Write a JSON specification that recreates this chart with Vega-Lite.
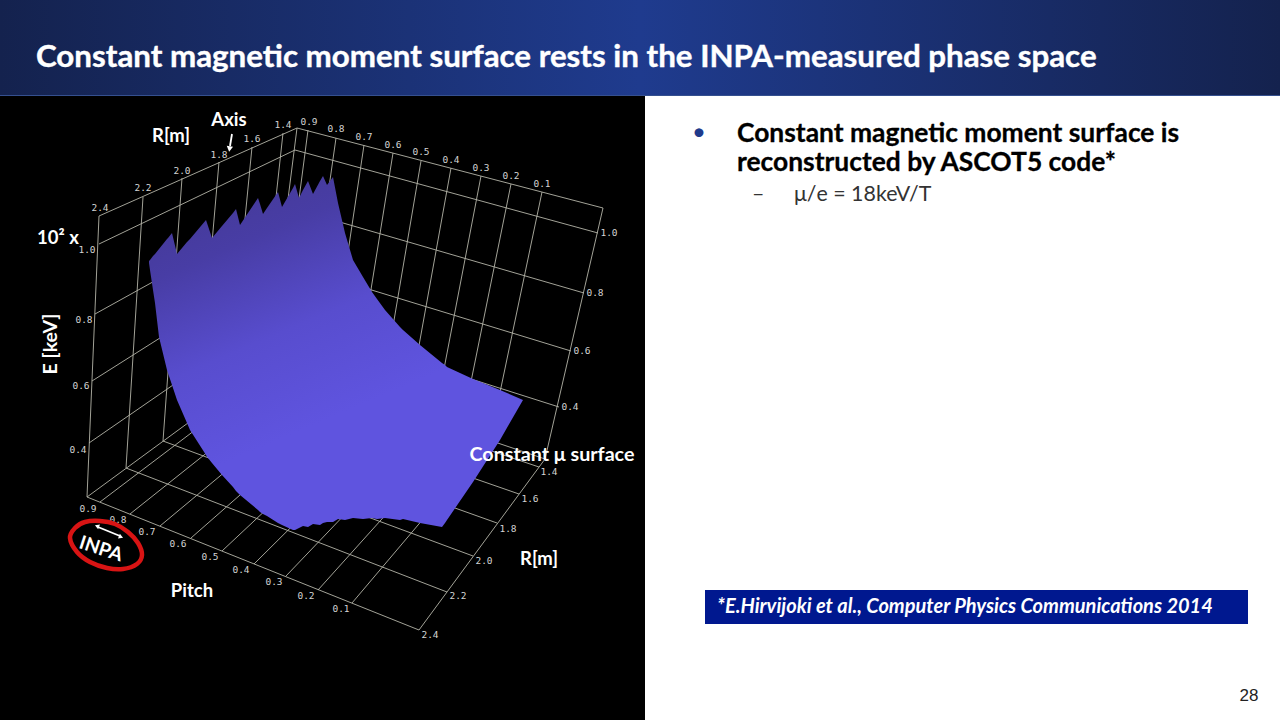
{"$schema":"https://vega.github.io/schema/vega-lite/v6.json","width":1280,"height":720,"autosize":{"type":"fit","contains":"padding"},"padding":0,"background":"#ffffff","view":{"stroke":null},
"datasets":{
"grid":[
{"x":99,"y":216,"x2":297,"y2":128},{"x":297,"y":128,"x2":603,"y2":208},{"x":99,"y":216,"x2":87,"y2":497},{"x":603,"y":208,"x2":545,"y2":459},{"x":297,"y":128,"x2":267,"y2":365},{"x":87,"y":497,"x2":419,"y2":630},{"x":419,"y":630,"x2":545,"y2":459},{"x":87,"y":497,"x2":267,"y2":365},{"x":267,"y":365,"x2":545,"y2":459},
{"x":99,"y":244,"x2":295,"y2":150},{"x":95,"y":314,"x2":288,"y2":207},{"x":92,"y":381,"x2":280,"y2":262},{"x":89,"y":443,"x2":273,"y2":316},
{"x":295,"y":150,"x2":598,"y2":233},{"x":288,"y":207,"x2":584,"y2":293},{"x":280,"y":262,"x2":571,"y2":351},{"x":273,"y":316,"x2":559,"y2":407},
{"x":143,"y":197,"x2":126,"y2":468},{"x":182,"y":178,"x2":163,"y2":441},{"x":219,"y":162,"x2":197,"y2":416},{"x":252,"y":147,"x2":228,"y2":393},{"x":283,"y":133,"x2":257,"y2":372},
{"x":308,"y":130,"x2":277,"y2":368},{"x":336,"y":138,"x2":302,"y2":377},{"x":364,"y":145,"x2":328,"y2":386},{"x":393,"y":153,"x2":354,"y2":395},{"x":421,"y":161,"x2":380,"y2":403},{"x":451,"y":168,"x2":407,"y2":412},{"x":481,"y":176,"x2":434,"y2":421},{"x":511,"y":184,"x2":461,"y2":431},{"x":542,"y":192,"x2":490,"y2":440},
{"x":100,"y":502,"x2":277,"y2":368},{"x":130,"y":514,"x2":302,"y2":377},{"x":160,"y":526,"x2":328,"y2":386},{"x":191,"y":538,"x2":354,"y2":395},{"x":222,"y":551,"x2":380,"y2":403},{"x":254,"y":564,"x2":407,"y2":412},{"x":286,"y":576,"x2":434,"y2":421},{"x":318,"y":590,"x2":461,"y2":431},{"x":352,"y":603,"x2":490,"y2":440},
{"x":126,"y":468,"x2":447,"y2":592},{"x":163,"y":441,"x2":473,"y2":556},{"x":197,"y":416,"x2":497,"y2":523},{"x":228,"y":393,"x2":519,"y2":494},{"x":257,"y":372,"x2":539,"y2":467}
],
"surface":[
{"x":149,"y":261,"y2":263},{"x":150,"y":260,"y2":270},{"x":153,"y":256,"y2":290},{"x":155,"y":254,"y2":303},{"x":159,"y":249,"y2":337},{"x":167,"y":239,"y2":370},{"x":168,"y":238,"y2":373},{"x":172,"y":233,"y2":385},{"x":177,"y":254,"y2":400},{"x":187,"y":242,"y2":423},{"x":190,"y":239,"y2":430},{"x":206,"y":220,"y2":455},{"x":207,"y":223,"y2":457},{"x":208,"y":226,"y2":458},{"x":212,"y":238,"y2":463},{"x":222,"y":226,"y2":475},{"x":233,"y":213,"y2":487},{"x":236,"y":209,"y2":491},{"x":240,"y":225,"y2":495},{"x":258,"y":198,"y2":510},{"x":260,"y":204,"y2":512},{"x":263,"y":214,"y2":514},{"x":267,"y":208,"y2":516},{"x":278,"y":192,"y2":523},{"x":282,"y":207,"y2":525},{"x":293,"y":188,"y2":530},{"x":295,"y":184,"y2":530},{"x":297,"y":191,"y2":529},{"x":299,"y":198,"y2":528},{"x":303,"y":190,"y2":526},{"x":308,"y":181,"y2":527},{"x":313,"y":194,"y2":524},{"x":320,"y":181,"y2":525},{"x":323,"y":176,"y2":523},{"x":327,"y":185,"y2":522},{"x":333,"y":177,"y2":522},{"x":338,"y":203,"y2":519},{"x":345,"y":233,"y2":520},{"x":353,"y":260,"y2":518},{"x":363,"y":277,"y2":519},{"x":372,"y":292,"y2":518},{"x":377,"y":299,"y2":519},{"x":385,"y":310,"y2":518},{"x":400,"y":327,"y2":520},{"x":403,"y":330,"y2":519},{"x":420,"y":345,"y2":523},{"x":442,"y":363,"y2":527},{"x":445,"y":365,"y2":523},{"x":447,"y":367,"y2":520},{"x":473,"y":379,"y2":482},{"x":500,"y":390,"y2":440},{"x":523,"y":400,"y2":400}
],
"ticks":[
{"x":100,"y":208,"t":"2.4"},{"x":143,"y":188,"t":"2.2"},{"x":182,"y":171,"t":"2.0"},{"x":219,"y":155,"t":"1.8"},{"x":252,"y":139,"t":"1.6"},{"x":283,"y":125,"t":"1.4"},
{"x":309,"y":122,"t":"0.9"},{"x":336,"y":129,"t":"0.8"},{"x":364,"y":137,"t":"0.7"},{"x":393,"y":145,"t":"0.6"},{"x":421,"y":152,"t":"0.5"},{"x":451,"y":160,"t":"0.4"},{"x":481,"y":168,"t":"0.3"},{"x":511,"y":176,"t":"0.2"},{"x":542,"y":184,"t":"0.1"},
{"x":87,"y":250,"t":"1.0"},{"x":84,"y":320,"t":"0.8"},{"x":81,"y":386,"t":"0.6"},{"x":78,"y":450,"t":"0.4"},
{"x":609,"y":233,"t":"1.0"},{"x":595,"y":293,"t":"0.8"},{"x":582,"y":351,"t":"0.6"},{"x":570,"y":407,"t":"0.4"},
{"x":88,"y":509,"t":"0.9"},{"x":118,"y":520,"t":"0.8"},{"x":147,"y":532,"t":"0.7"},{"x":178,"y":544,"t":"0.6"},{"x":210,"y":557,"t":"0.5"},{"x":241,"y":570,"t":"0.4"},{"x":274,"y":582,"t":"0.3"},{"x":306,"y":596,"t":"0.2"},{"x":341,"y":609,"t":"0.1"},
{"x":549,"y":472,"t":"1.4"},{"x":530,"y":499,"t":"1.6"},{"x":508,"y":529,"t":"1.8"},{"x":484,"y":561,"t":"2.0"},{"x":458,"y":596,"t":"2.2"},{"x":430,"y":635,"t":"2.4"}
],
"ellipse":[{"x":70,"y":538,"o":0},{"x":75,"y":528,"o":1},{"x":85,"y":522,"o":2},{"x":100,"y":521,"o":3},{"x":115,"y":524,"o":4},{"x":128,"y":532,"o":5},{"x":138,"y":543,"o":6},{"x":142,"y":555,"o":7},{"x":137,"y":564,"o":8},{"x":123,"y":569,"o":9},{"x":107,"y":568,"o":10},{"x":90,"y":562,"o":11},{"x":77,"y":552,"o":12}]
},
"encoding":{"x":{"field":"x","type":"quantitative","scale":{"domain":[0,1280],"nice":false,"zero":false},"axis":null},"y":{"field":"y","type":"quantitative","scale":{"domain":[720,0],"nice":false,"zero":false},"axis":null}},
"layer":[
{"data":{"values":[{"x":0,"x2":645,"y":96,"y2":720}]},"mark":{"type":"rect","color":"#000000"},"encoding":{"x2":{"field":"x2"},"y2":{"field":"y2"}}},
{"data":{"values":[{"x":0,"x2":1280,"y":0,"y2":95}]},"mark":{"type":"rect","color":{"gradient":"linear","x1":0,"y1":0,"x2":1,"y2":0,"stops":[{"offset":0,"color":"#14224e"},{"offset":0.5,"color":"#1f3b8e"},{"offset":1,"color":"#14224e"}]}},"encoding":{"x2":{"field":"x2"},"y2":{"field":"y2"}}},
{"data":{"values":[{"x":0,"x2":1280,"y":95,"y2":96}]},"mark":{"type":"rect","color":"#35508f"},"encoding":{"x2":{"field":"x2"},"y2":{"field":"y2"}}},
{"data":{"values":[{"x":705,"x2":1248,"y":590,"y2":624}]},"mark":{"type":"rect","color":"#00188f"},"encoding":{"x2":{"field":"x2"},"y2":{"field":"y2"}}},
{"data":{"name":"grid"},"mark":{"type":"rule","color":"#b4b4a8","strokeWidth":0.9},"encoding":{"x2":{"field":"x2"},"y2":{"field":"y2"}}},
{"data":{"name":"surface"},"mark":{"type":"area","color":{"gradient":"linear","x1":0,"y1":0,"x2":0.45,"y2":1,"stops":[{"offset":0,"color":"#42378f"},{"offset":0.25,"color":"#483da5"},{"offset":0.5,"color":"#584dce"},{"offset":0.75,"color":"#5f54df"},{"offset":1,"color":"#5f54df"}]}},"encoding":{"y2":{"field":"y2"}}},
{"data":{"name":"ticks"},"mark":{"type":"text","font":"DejaVu Sans Mono","fontSize":9.5,"color":"#d4d4d4","align":"center","baseline":"middle"},"encoding":{"text":{"field":"t"}}},
{"data":{"name":"ellipse"},"mark":{"type":"line","color":"#d81414","strokeWidth":4.5,"interpolate":"cardinal-closed"},"encoding":{"order":{"field":"o"}}},
{"data":{"values":[{"x":232,"y":134,"x2":230,"y2":146},{"x":98,"y":527,"x2":120,"y2":536}]},"mark":{"type":"rule","color":"#ffffff","strokeWidth":1.8},"encoding":{"x2":{"field":"x2"},"y2":{"field":"y2"}}},
{"data":{"values":[{"x":229.5,"y":149}]},"mark":{"type":"point","shape":"triangle-down","filled":true,"color":"#ffffff","opacity":1,"size":40,"angle":8}},
{"data":{"values":[{"x":97,"y":526}]},"mark":{"type":"point","shape":"triangle-up","filled":true,"color":"#ffffff","opacity":1,"size":26,"angle":291}},
{"data":{"values":[{"x":121,"y":537}]},"mark":{"type":"point","shape":"triangle-up","filled":true,"color":"#ffffff","opacity":1,"size":26,"angle":111}},
{"data":{"values":[{"x":552,"y":455,"t":"Constant μ surface"}]},"mark":{"type":"text","font":"Lato","fontWeight":"bold","fontSize":19.7,"color":"#ffffff","align":"center","baseline":"middle"},"encoding":{"text":{"field":"t"}}},
{"data":{"values":[{"x":171,"y":136,"t":"R[m]"},{"x":229,"y":120,"t":"Axis"},{"x":58,"y":238,"t":"10² x"},{"x":539,"y":559,"t":"R[m]"},{"x":192,"y":591,"t":"Pitch"}]},"mark":{"type":"text","font":"Lato","fontWeight":"bold","fontSize":18.5,"color":"#ffffff","align":"center","baseline":"middle"},"encoding":{"text":{"field":"t"}}},
{"data":{"values":[{"x":51,"y":344,"t":"E [keV]"}]},"mark":{"type":"text","font":"Lato","fontWeight":"bold","fontSize":19.5,"color":"#ffffff","align":"center","baseline":"middle","angle":270},"encoding":{"text":{"field":"t"}}},
{"data":{"values":[{"x":101,"y":549,"t":"INPA"}]},"mark":{"type":"text","font":"Lato","fontWeight":"bold","fontSize":19,"color":"#ffffff","align":"center","baseline":"middle","angle":18},"encoding":{"text":{"field":"t"}}},
{"data":{"values":[{"x":36,"y":58,"t":"Constant magnetic moment surface rests in the INPA-measured phase space"}]},"mark":{"type":"text","font":"Lato","fontWeight":"bold","fontSize":31.3,"color":"#ffffff","stroke":"#ffffff","strokeWidth":0.4,"align":"left","baseline":"middle"},"encoding":{"text":{"field":"t"}}},
{"data":{"values":[{"x":692,"y":133,"t":"•"}]},"mark":{"type":"text","font":"Lato","fontSize":24,"color":"#1f3a8c","align":"left","baseline":"middle"},"encoding":{"text":{"field":"t"}}},
{"data":{"values":[{"x":737,"y":134,"t":"Constant magnetic moment surface is"},{"x":737,"y":163,"t":"reconstructed by ASCOT5 code*"}]},"mark":{"type":"text","font":"Lato","fontWeight":"bold","fontSize":26.4,"color":"#000000","stroke":"#000000","strokeWidth":0.3,"align":"left","baseline":"middle"},"encoding":{"text":{"field":"t"}}},
{"data":{"values":[{"x":752,"y":195,"t":"–"},{"x":794,"y":195,"t":"μ/e = 18keV/T"}]},"mark":{"type":"text","font":"Lato","fontSize":21.4,"color":"#333333","align":"left","baseline":"middle"},"encoding":{"text":{"field":"t"}}},
{"data":{"values":[{"x":717,"y":607,"t":"*E.Hirvijoki et al., Computer Physics Communications 2014"}]},"mark":{"type":"text","font":"Lato","fontWeight":"bold","fontStyle":"italic","fontSize":20,"color":"#ffffff","align":"left","baseline":"middle"},"encoding":{"text":{"field":"t"}}},
{"data":{"values":[{"x":1249,"y":696,"t":"28"}]},"mark":{"type":"text","font":"Liberation Sans","fontSize":17,"color":"#222222","align":"center","baseline":"middle"},"encoding":{"text":{"field":"t"}}}
]}
